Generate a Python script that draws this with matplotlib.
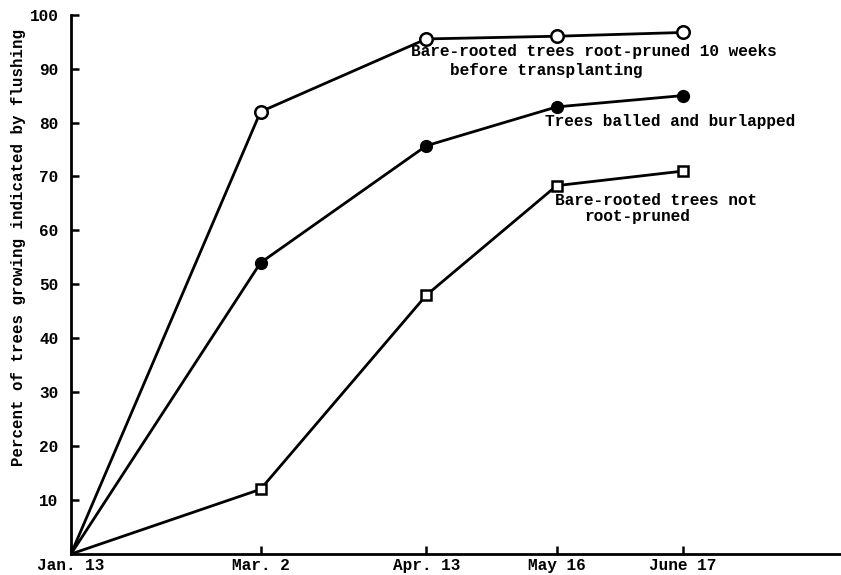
import matplotlib.pyplot as plt

# days since Jan. 13
dates = ["Jan. 13", "Mar. 2", "Apr. 13", "May 16", "June 17"]
days = [0, 48, 90, 123, 155]

pruned_10wk = [0, 82, 95.5, 96, 96.7]
balled_burlapped = [0, 54, 75.7, 82.9, 85]
not_pruned = [0, 12, 48, 68.3, 71]

plt.rcParams['font.family'] = ['Liberation Mono', 'DejaVu Sans Mono']
plt.rcParams['font.weight'] = 'bold'

fig = plt.figure(figsize=(8.41, 5.75), dpi=100)
ax = fig.add_axes([0.0844, 0.0365, 0.9156, 0.938])

lw = 2.0
ax.plot(days, pruned_10wk, color='black', lw=lw, marker='o', ms=9,
        mfc='white', mec='black', mew=1.8, markevery=[1, 2, 3, 4])
ax.plot(days, balled_burlapped, color='black', lw=lw, marker='o', ms=8.5,
        mfc='black', mec='black', markevery=[1, 2, 3, 4])
ax.plot(days, not_pruned, color='black', lw=lw, marker='s', ms=7,
        mfc='white', mec='black', mew=1.8, markevery=[1, 2, 3, 4])

fs = 11.6
ax.text(86, 92.4, "Bare-rooted trees root-pruned 10 weeks", fontsize=fs, fontweight='bold')
ax.text(96, 88.9, "before transplanting", fontsize=fs, fontweight='bold')
ax.text(120, 79.3, "Trees balled and burlapped", fontsize=fs, fontweight='bold')
ax.text(122.5, 64.8, "Bare-rooted trees not", fontsize=fs, fontweight='bold')
ax.text(130, 61.8, "root-pruned", fontsize=fs, fontweight='bold')

ax.set_xlim(0, 195)
ax.set_ylim(0, 100)
ax.set_xticks(days)
ax.set_xticklabels(dates)
ax.set_yticks(range(10, 101, 10))
ax.tick_params(direction='in', length=6, width=1.8, labelsize=fs)
ax.tick_params(axis='y', pad=9)
ax.tick_params(axis='x', pad=3)
for s in ['top', 'right']:
    ax.spines[s].set_visible(False)
for s in ['left', 'bottom']:
    ax.spines[s].set_linewidth(2)
ax.set_ylabel("Percent of trees growing indicated by flushing", fontsize=11.3,
              fontweight='bold')
ax.yaxis.set_label_coords(-0.058, 0.568)

fig.savefig("out.png", dpi=100)
